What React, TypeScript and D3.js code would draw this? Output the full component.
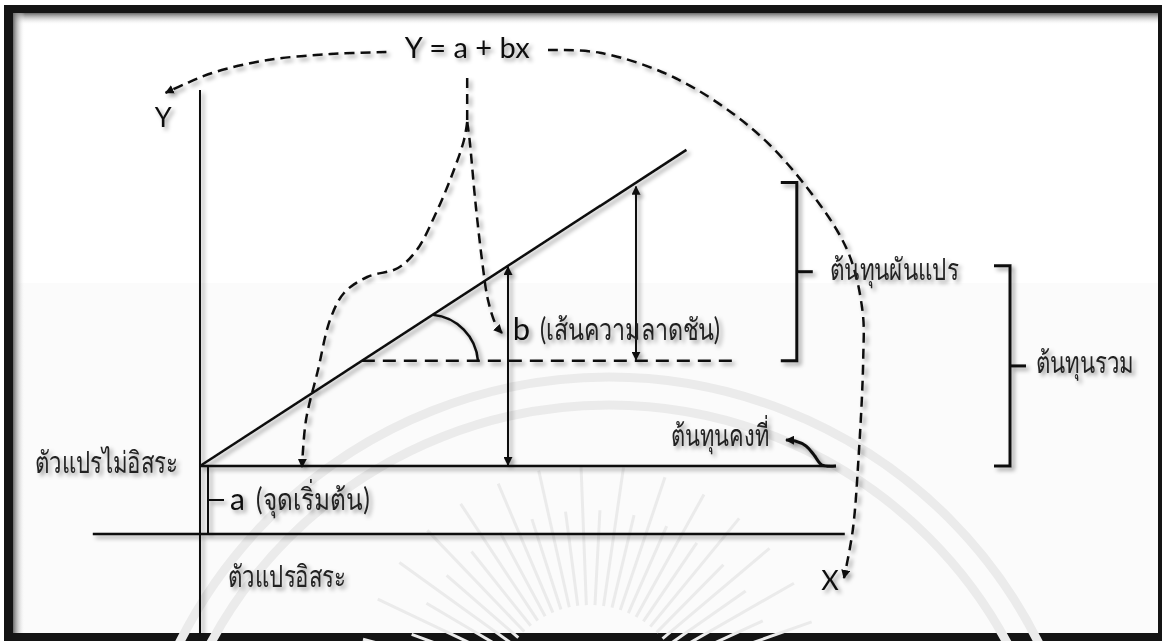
import React, { useLayoutEffect, useRef, useState } from "react";
import * as d3 from "d3";

const W = 1162;
const H = 641;

// regression model drawn in diagram units: Y = a + bX
const intercept = 1.7;
const slope = 1.3;
const lineEndX = 6.08;
const fixedEndX = 7.95;
const xAxisSpan = [-1.34, 8.06];
const yAxisSpan = [-2.5, 11.1];
const slopeBaseY = 4.33; // dashed reference line for the angle
const slopeBaseEndX = 6.71;
const riseX = [3.85, 5.45]; // total-cost rise, variable-cost rise
const bracketX = [7.46, 10.125];
const angleArcX = [2.91, 3.475];
const aBracketX = 0.1;

// dashed guide curves (diagram units)
const guideToY: [number, number][] = [
  [2.33, 12.05], [1.63, 12.0], [0.85, 11.85], [0.19, 11.55], [-0.19, 11.25], [-0.43, 11.03],
];
const guideToX: [number, number][] = [
  [4.35, 12.1], [5.0, 12.03], [5.94, 11.4], [6.89, 10.15], [7.56, 8.73], [8.09, 7.1],
  [8.28, 5.6], [8.29, 4.35], [8.23, 1.85], [8.16, 0.1], [8.05, -1.1],
];
const guideTrunk: [number, number][] = [[3.34, 11.4], [3.34, 10.3]];
const guideToA: [number, number][] = [
  [3.34, 10.3], [3.3, 9.85], [3.15, 8.975], [2.95, 8.025], [2.71, 7.1], [2.475, 6.65],
  [2.09, 6.425], [1.8, 6.025], [1.625, 5.35], [1.475, 4.1], [1.325, 2.85], [1.275, 1.675],
];
const guideToB: [number, number][] = [
  [3.34, 10.3], [3.37, 9.85], [3.44, 8.35], [3.525, 6.85], [3.6, 5.85], [3.7, 5.225], [3.775, 5.025],
];
const fixedPointer: [number, number][] = [
  [7.95, 1.7], [7.775, 1.725], [7.675, 1.975], [7.575, 2.2], [7.44, 2.325], [7.325, 2.35],
];

const labels = {
  equation: "Y = a + bx",
  yAxis: "Y",
  xAxis: "X",
  dependent: "ตัวแปรไม่อิสระ",
  independent: "ตัวแปรอิสระ",
  a: "a",
  aNote: "(จุดเริ่มต้น)",
  b: "b",
  bNote: "(เส้นความลาดชัน)",
  variable: "ต้นทุนผันแปร",
  total: "ต้นทุนรวม",
  fixed: "ต้นทุนคงที่",
};

const x = d3.scaleLinear().domain([0, 10]).range([200, 1000]);
const y = d3.scaleLinear().domain([0, 10]).range([534, 134]);
const reg = (v: number) => intercept + slope * v;

const curve = d3
  .line<[number, number]>()
  .x((d) => x(d[0]))
  .y((d) => y(d[1]))
  .curve(d3.curveCatmullRom.alpha(0.5));

const FONT = "Lato, 'Open Sans', 'Noto Sans', sans-serif";
const THAI = 30;

function Seal() {
  // faint watermark behind the drawing
  const cx = 609;
  const cy = 857;
  const rays = d3.range(-165, -14, 5.2);
  return (
    <g stroke="#ebebeb" fill="none">
      <circle cx={cx} cy={cy} r={480} strokeWidth={9} />
      <circle cx={cx} cy={cy} r={452} strokeWidth={9} />
      {rays.map((deg, i) => {
        const t = (deg * Math.PI) / 180;
        const r0 = 95;
        const r1 = i % 2 ? 190 : 235;
        return (
          <line key={i} x1={590 + r0 * Math.cos(t)} y1={700 + r0 * Math.sin(t)}
            x2={590 + r1 * Math.cos(t)} y2={700 + r1 * Math.sin(t)} strokeWidth={3} />
        );
      })}
    </g>
  );
}

// Thai label squeezed horizontally to the width it has in the figure
function ThaiText(props: { x: number; y: number; w: number; anchor?: string; children: string }) {
  const ref = useRef<SVGTextElement>(null);
  const [k, setK] = useState(1);
  useLayoutEffect(() => {
    const natural = ref.current ? ref.current.getComputedTextLength() : 0;
    if (natural > 0) setK(props.w / natural);
  }, [props.w, props.children]);
  return (
    <text ref={ref} transform={`translate(${props.x},${props.y}) scale(${k},1)`} fontSize={THAI}
      textAnchor={props.anchor ?? "start"} fill="#222">
      {props.children}
    </text>
  );
}

export default function App() {
  const xi = (slopeBaseY - intercept) / slope;
  const arcStart: [number, number] = [x(angleArcX[0]), y(reg(angleArcX[0]))];
  const arcEnd: [number, number] = [x(angleArcX[1]), y(slopeBaseY)];
  const arcR = Math.hypot(arcEnd[0] - arcStart[0], arcEnd[1] - arcStart[1]) * 0.78;

  const bracket = (bx: number, y0: number, y1: number, key: string) => {
    const px = x(bx);
    const top = y(y1);
    const bot = y(y0);
    const mid = (top + bot) / 2;
    return (
      <g key={key} fill="none" stroke="#111" strokeWidth={3}>
        <path d={`M${px - 16},${top} H${px} V${bot} H${px - 16}`} />
        <line x1={px} x2={px + 16} y1={mid} y2={mid} />
      </g>
    );
  };

  return (
    <svg width={W} height={H} style={{ position: "fixed", left: 0, top: 0, display: "block" }}>
      <defs>
        <filter id="shadow" x="-10%" y="-10%" width="130%" height="130%">
          <feDropShadow dx="3" dy="3" stdDeviation="2.2" floodColor="#000" floodOpacity="0.38" />
        </filter>
        <marker id="tip" viewBox="0 0 10 10" refX="9" refY="5" markerWidth="9" markerHeight="9"
          markerUnits="userSpaceOnUse" orient="auto-start-reverse">
          <path d="M0,0 L10,5 L0,10 z" fill="#111" />
        </marker>
        <linearGradient id="topShade" x1="0" y1="0" x2="0" y2="1">
          <stop offset="0" stopColor="#6a6a6a" />
          <stop offset="1" stopColor="#fff" stopOpacity="0" />
        </linearGradient>
        <linearGradient id="leftShade" x1="0" y1="0" x2="1" y2="0">
          <stop offset="0" stopColor="#6a6a6a" />
          <stop offset="1" stopColor="#fff" stopOpacity="0" />
        </linearGradient>
      </defs>

      {/* frame */}
      <rect width={W} height={H} fill="#fff" />
      <rect x={4} y={5} width={W - 4} height={H - 5} fill="#141414" />
      <rect x={13} y={13} width={1145} height={620} fill="#fff" />
      <rect x={13} y={283} width={1145} height={350} fill="#fbfbfb" />
      <Seal />
      <rect x={13} y={13} width={1145} height={12} fill="url(#topShade)" />
      <rect x={13} y={13} width={12} height={620} fill="url(#leftShade)" />

      <g filter="url(#shadow)" stroke="#111" fill="none">
        {/* axes */}
        <line x1={x(0)} x2={x(0)} y1={y(yAxisSpan[1])} y2={y(yAxisSpan[0])} strokeWidth={2} />
        <line x1={x(xAxisSpan[0])} x2={x(xAxisSpan[1])} y1={y(0)} y2={y(0)} strokeWidth={2.5} />

        {/* fixed cost and regression line */}
        <line x1={x(0)} x2={x(fixedEndX)} y1={y(intercept)} y2={y(intercept)} strokeWidth={2.5} />
        <line x1={x(0)} x2={x(lineEndX)} y1={y(intercept)} y2={y(reg(lineEndX))} strokeWidth={2.5} />

        {/* slope reference */}
        <line x1={x(xi)} x2={x(slopeBaseEndX)} y1={y(slopeBaseY)} y2={y(slopeBaseY)}
          strokeWidth={2.5} strokeDasharray="13 8" />
        <path d={`M${arcStart[0]},${arcStart[1]} A${arcR},${arcR} 0 0 1 ${arcEnd[0]},${arcEnd[1]}`}
          strokeWidth={2.5} />

        {/* rises */}
        <line x1={x(riseX[0])} x2={x(riseX[0])} y1={y(intercept) - 1} y2={y(reg(riseX[0])) + 1}
          strokeWidth={2} markerStart="url(#tip)" markerEnd="url(#tip)" />
        <line x1={x(riseX[1])} x2={x(riseX[1])} y1={y(slopeBaseY) - 1} y2={y(reg(riseX[1])) + 4}
          strokeWidth={2} markerStart="url(#tip)" markerEnd="url(#tip)" />

        {/* a marker */}
        <line x1={x(aBracketX)} x2={x(aBracketX)} y1={y(intercept)} y2={y(0)} strokeWidth={2} />
        <line x1={x(aBracketX)} x2={x(aBracketX) + 16} y1={(y(0) + y(intercept)) / 2}
          y2={(y(0) + y(intercept)) / 2} strokeWidth={2} />

        {/* brackets */}
        {bracket(bracketX[0], slopeBaseY, reg(riseX[1]), "var")}
        {bracket(bracketX[1], intercept, reg(riseX[0]), "tot")}

        {/* guide curves */}
        <g strokeWidth={2.5} strokeDasharray="10 6">
          <path d={curve(guideToY) ?? ""} markerEnd="url(#tip)" />
          <path d={curve(guideToX) ?? ""} markerEnd="url(#tip)" />
          <path d={curve(guideTrunk) ?? ""} />
          <path d={curve(guideToA) ?? ""} markerEnd="url(#tip)" />
          <path d={curve(guideToB) ?? ""} markerEnd="url(#tip)" />
        </g>
        <path d={curve(fixedPointer) ?? ""} strokeWidth={3} markerEnd="url(#tip)" />

        {/* text */}
        <g fill="#111" stroke="none" fontFamily={FONT}>
          <text x={x(3.34)} y={y(11.9)} fontSize={29} textAnchor="middle">{labels.equation}</text>
          <text x={x(-0.46)} y={y(10.17)} fontSize={27} textAnchor="middle">{labels.yAxis}</text>
          <text x={x(7.875)} y={y(-1.4)} fontSize={27} textAnchor="middle">{labels.xAxis}</text>
          <ThaiText x={x(-0.275)} y={y(1.52)} w={143} anchor="end">{labels.dependent}</ThaiText>
          <ThaiText x={x(0.35)} y={y(-1.32)} w={117}>{labels.independent}</ThaiText>
          <text x={x(0.375)} y={y(0.6)} fontSize={30}>{labels.a}</text>
          <ThaiText x={x(0.7)} y={y(0.6)} w={113}>{labels.aNote}</ThaiText>
          <text x={x(3.91)} y={y(4.85)} fontSize={31}>{labels.b}</text>
          <ThaiText x={x(4.25)} y={y(4.85)} w={182}>{labels.bNote}</ThaiText>
          <ThaiText x={x(7.875)} y={y(6.35)} w={130}>{labels.variable}</ThaiText>
          <ThaiText x={x(10.45)} y={y(4.03)} w={99}>{labels.total}</ThaiText>
          <ThaiText x={x(5.89)} y={y(2.2)} w={99}>{labels.fixed}</ThaiText>
        </g>
      </g>
    </svg>
  );
}
